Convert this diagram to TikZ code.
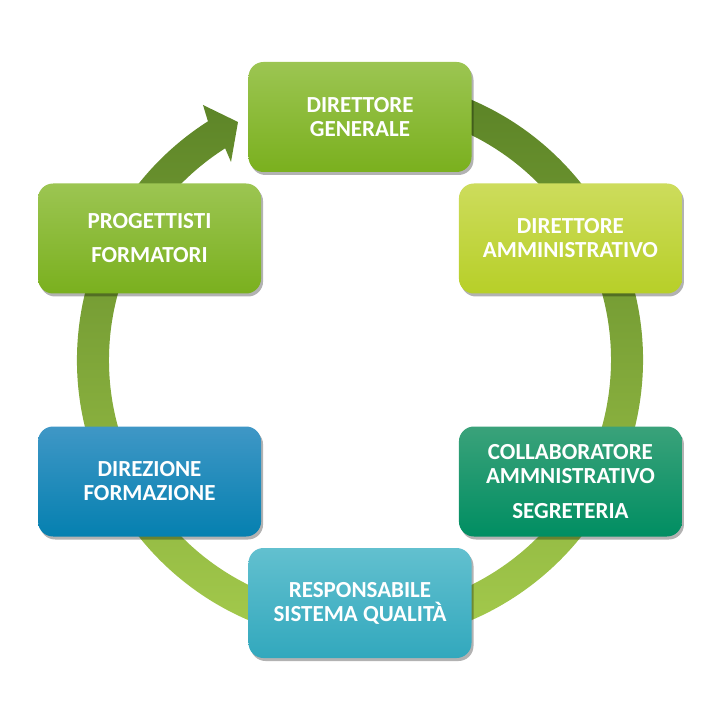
\documentclass[tikz,border=0pt]{standalone}
\usepackage{fontspec}
\setmainfont{Carlito}
\usepackage{tikz}
\usetikzlibrary{shadows}

\definecolor{ringtop}{RGB}{90,130,38}
\definecolor{ringmid}{RGB}{108,152,38}
\definecolor{ringbot}{RGB}{168,206,78}
\definecolor{leaftop}{RGB}{156,197,82}
\definecolor{leafbot}{RGB}{122,176,30}
\definecolor{limetop}{RGB}{205,220,92}
\definecolor{limebot}{RGB}{183,207,40}
\definecolor{seatop}{RGB}{58,162,122}
\definecolor{seabot}{RGB}{0,142,98}
\definecolor{aquatop}{RGB}{98,192,207}
\definecolor{aquabot}{RGB}{50,168,189}
\definecolor{bluetop}{RGB}{63,151,198}
\definecolor{bluebot}{RGB}{5,128,176}

\begin{document}
\begin{tikzpicture}[x=1pt, y=1pt, font=\bfseries\fontsize{23}{24}\selectfont,
    box/.style={rounded corners=15pt, minimum width=223pt, minimum height=110pt,
        text=white, align=center,
        drop shadow={shadow xshift=2pt, shadow yshift=-3pt, opacity=0.3, fill=black}}]
    \useasboundingbox (-360,-360) rectangle (360,360);

    % Cycle ring with its arrow head
    \shade[top color=ringtop, middle color=ringmid, bottom color=ringbot]
        (80:283) arc[start angle=80, end angle=-237.5, radius=283]
        -- (-157,255) -- (-122,238) -- (-129,198)
        -- (-237.5:251) arc[start angle=-237.5, end angle=80, radius=251] -- cycle;

    % Boxes, clockwise from the top
    \node[box, top color=leaftop, bottom color=leafbot] (generale) at (90:243) {DIRETTORE\\GENERALE};
    \node[box, top color=limetop, bottom color=limebot] (amministrativo) at (30:243) {DIRETTORE\\AMMINISTRATIVO};
    \node[box, top color=seatop, bottom color=seabot] (segreteria) at (-30:243) {COLLABORATORE\\AMMNISTRATIVO\\[11pt]SEGRETERIA};
    \node[box, top color=aquatop, bottom color=aquabot] (qualita) at (-90:243) {RESPONSABILE\\SISTEMA QUALITÀ};
    \node[box, top color=bluetop, bottom color=bluebot] (direzione) at (-150:243) {DIREZIONE\\FORMAZIONE};
    \node[box, top color=leaftop, bottom color=leafbot] (progettisti) at (150:243) {PROGETTISTI\\[10pt]FORMATORI};
\end{tikzpicture}
\end{document}
